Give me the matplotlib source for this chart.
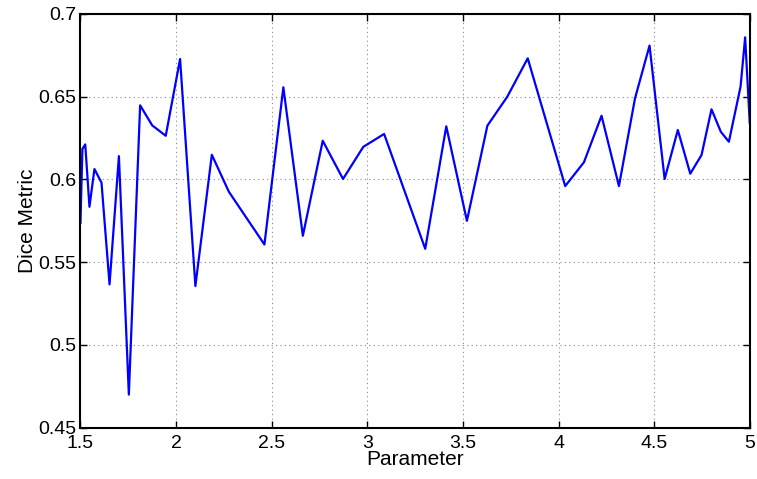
import matplotlib
matplotlib.use("Agg")
import matplotlib.pyplot as plt

# values
param = [1.500, 1.510, 1.525, 1.547, 1.573, 1.610, 1.652, 1.701, 1.753, 1.812,
         1.875, 1.946, 2.021, 2.101, 2.187, 2.276, 2.462, 2.561, 2.663, 2.767,
         2.873, 2.979, 3.088, 3.303, 3.413, 3.521, 3.628, 3.732, 3.839, 4.035,
         4.133, 4.225, 4.316, 4.400, 4.476, 4.555, 4.624, 4.689, 4.748, 4.800,
         4.849, 4.891, 4.952, 4.976, 5.000]
dice = [0.5738, 0.6184, 0.6212, 0.5835, 0.6063, 0.5981, 0.5366, 0.6141, 0.4700, 0.6448,
        0.6327, 0.6264, 0.6728, 0.5356, 0.6149, 0.5926, 0.5607, 0.6557, 0.5660, 0.6234,
        0.6003, 0.6197, 0.6275, 0.5581, 0.6321, 0.5750, 0.6325, 0.6500, 0.6732, 0.5960,
        0.6104, 0.6385, 0.5960, 0.6490, 0.6809, 0.6003, 0.6299, 0.6035, 0.6148, 0.6424,
        0.6288, 0.6228, 0.6561, 0.6859, 0.6343]

xticks = [1.5, 2, 2.5, 3, 3.5, 4, 4.5, 5]
xticklabels = ['1.5', '2', '2.5', '3', '3.5', '4', '4.5', '5']
yticks = [0.45, 0.5, 0.55, 0.6, 0.65, 0.7]
yticklabels = ['0.45', '0.5', '0.55', '0.6', '0.65', '0.7']

plt.rcParams['font.family'] = ['Liberation Sans', 'DejaVu Sans']

fig = plt.figure(figsize=(7.57, 4.79), dpi=100)
ax = fig.add_axes([0.1063, 0.1071, 0.8841, 0.8637])

ax.plot(param, dice, color='#0000ff', linewidth=1.6)

ax.set_xlim(1.5, 5)
ax.set_ylim(0.45, 0.7)
ax.set_xticks(xticks)
ax.set_xticklabels(xticklabels)
ax.set_yticks(yticks)
ax.set_yticklabels(yticklabels)

ax.grid(True, linestyle=(0, (1, 3)), color='#888888', linewidth=0.8)
ax.tick_params(direction='in', top=True, right=True, length=5, width=1,
               labelsize=14, pad=3)
ax.tick_params(axis='x', pad=5)
for s in ax.spines.values():
    s.set_linewidth(1.5)

ax.set_xlabel('Parameter', fontsize=15, labelpad=-1)
ax.set_ylabel('Dice Metric', fontsize=15, labelpad=1)

fig.savefig('out.png', dpi=100)
